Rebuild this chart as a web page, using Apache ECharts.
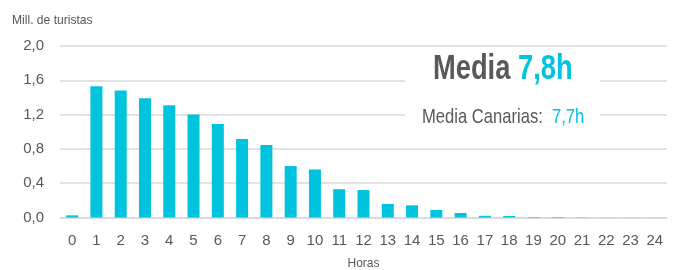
<!DOCTYPE html>
<html><head><meta charset="utf-8">
<script src="https://cdn.jsdelivr.net/npm/echarts@6/dist/echarts.min.js"></script>
<style>html,body{margin:0;padding:0;background:#fff}#c{width:678px;height:270px}</style>
</head><body><div id="c"></div>
<script>
const hours = ['0','1','2','3','4','5','6','7','8','9','10','11','12','13','14','15','16','17','18','19','20','21','22','23','24'];
const tourists = [0.025,1.53,1.48,1.39,1.31,1.20,1.09,0.915,0.845,0.60,0.56,0.33,0.32,0.158,0.142,0.088,0.053,0.02,0.018,0.006,0.006,0.003,0.001,0.001,0.001];
const yTicks = [0, 0.4, 0.8, 1.2, 1.6, 2.0];
const yName = 'Mill. de turistas';
const xName = 'Horas';
const mediaLabel = 'Media';
const mediaValue = '7,8h';
const canariasLabel = 'Media Canarias:';
const canariasValue = '7,7h';

const FONT = '"Liberation Sans", Arial, sans-serif';
const GRAY = '#595959';
const CYAN = '#00c3de';
const chart = echarts.init(document.getElementById('c'));
chart.setOption({
  animation: false,
  textStyle: { fontFamily: FONT },
  grid: { left: 60, right: 11, top: 46, bottom: 52.5, containLabel: false, outerBoundsMode: 'none' },
  xAxis: {
    type: 'category', data: hours,
    name: xName, nameLocation: 'middle', nameGap: 40,
    nameTextStyle: { color: GRAY, fontSize: 12, fontFamily: FONT },
    axisLine: { show: true, lineStyle: { color: '#d9d9d9', width: 1.5 } },
    axisTick: { show: false },
    axisLabel: { color: GRAY, fontSize: 15, fontFamily: FONT, margin: 16, interval: 0 }
  },
  yAxis: {
    type: 'value', min: yTicks[0], max: yTicks[yTicks.length-1], interval: 0.4,
    axisLine: { show: false }, axisTick: { show: false },
    axisLabel: { color: GRAY, fontSize: 15, fontFamily: FONT, margin: 16,
      formatter: v => v.toFixed(1).replace('.', ',') },
    splitLine: { lineStyle: { color: '#d9d9d9', width: 1.5 } }
  },
  graphic: [
    { type: 'text', x: 12, y: 14, scaleX: 0.93, style: { text: yName, fill: GRAY, font: '13px ' + FONT } },
    { type: 'rect', x: 405, y: 58, shape: { width: 195, height: 75 }, style: { fill: '#fff' }, z: 50 },
    { type: 'text', x: 433, y: 52, scaleX: 0.78, z: 60, style: {
        text: '{a|' + mediaLabel + ' }{b|' + mediaValue + '}',
        rich: {
          a: { fill: GRAY, fontSize: 35, fontWeight: 'bold', fontFamily: FONT },
          b: { fill: CYAN, fontSize: 35, fontWeight: 'bold', fontFamily: FONT }
        } } },
    { type: 'text', x: 422, y: 107, scaleX: 0.79, z: 60, style: {
        text: '{a|' + canariasLabel + '  }{b|' + canariasValue + '}',
        rich: {
          a: { fill: GRAY, fontSize: 21, fontFamily: FONT },
          b: { fill: CYAN, fontSize: 21, fontFamily: FONT }
        } } }
  ],
  series: [{
    type: 'bar', data: tourists, barWidth: 12,
    itemStyle: { color: CYAN }
  }]
});
</script></body></html>
